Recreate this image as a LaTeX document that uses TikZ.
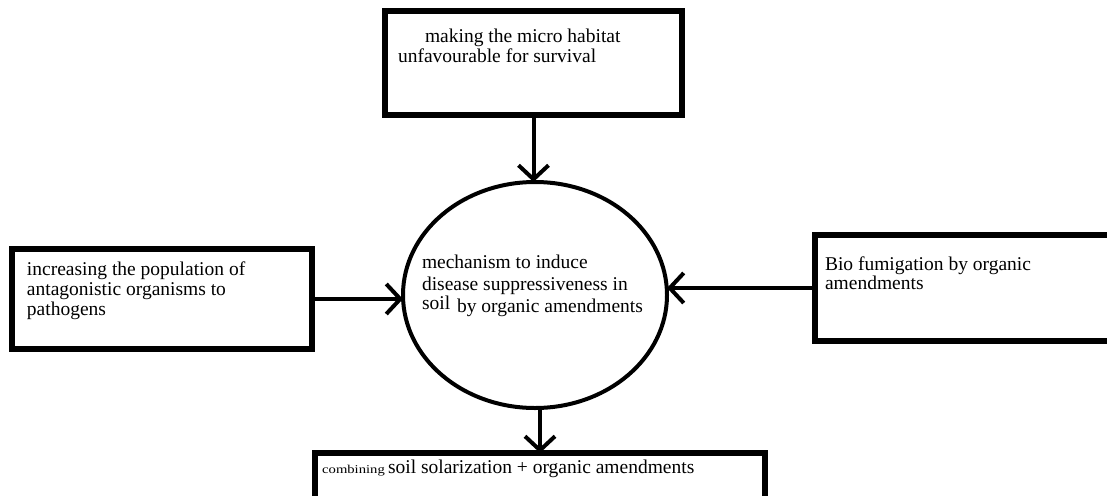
\documentclass[tikz,border=0pt]{standalone}
\usepackage{fontspec}
\setmainfont{Liberation Serif}
\usetikzlibrary{shapes.geometric,arrows.meta}
\tikzset{
  box/.style={draw, rectangle, line width=5.5pt, inner sep=0pt, outer sep=0pt},
  txt/.style={anchor=base west, inner sep=0pt, outer sep=0pt, font=\fontsize{19.5}{20.5}\selectfont},
  conn/.style={line width=4pt, -{Straight Barb[length=14pt,width=30pt]}}
}
\begin{document}
\begin{tikzpicture}[x=1pt,y=-1pt]
\clip (0,0) rectangle (1107,495);
\fill[white] (0,0) rectangle (1107,495);
% boxes
\node[box, minimum width=297pt, minimum height=104pt] (tb) at (533.5,63) {};
\node[box, minimum width=300pt, minimum height=100pt] (lb) at (162,299) {};
\node[box, minimum width=300pt, minimum height=106pt] (rb) at (965,288) {};
\node[box, minimum width=450pt, minimum height=57pt] (bb) at (540,481.5) {};
\node[draw, ellipse, line width=4pt, minimum width=264pt, minimum height=226pt, inner sep=0pt, outer sep=0pt] (e) at (535,295) {};
% texts
\node[txt] (t1) at (425,42) {making the micro habitat};
\node[txt] (t2) at (398,62.5) {unfavourable for survival};
\node[txt] (l1) at (27,275.5) {increasing the population of};
\node[txt] (l2) at (27,295.5) {antagonistic organisms to};
\node[txt] (l3) at (27,315) {pathogens};
\node[txt] (r1) at (825,270) {Bio fumigation by organic};
\node[txt] (r2) at (825,289) {amendments};
\node[txt] (e1) at (422,268.5) {mechanism to induce};
\node[txt] (e2) at (422,290) {disease suppressiveness in};
\node[txt] (e3) at (422,309.5) {soil};
\node[txt] (e4) at (457,312.5) {by organic amendments};
\node[anchor=base west, inner sep=0pt, font=\fontsize{12}{13}\selectfont] (b1) at (322,473.5) {\scalebox{1.22}[1]{combining}};
\node[txt] (b2) at (388,473.5) {soil solarization + organic amendments};
% connectors
\draw[conn] (tb.south) -- (tb.south |- e.north);
\draw[conn] (lb.east) -- (lb.east -| e.west);
\draw[conn] (rb.west) -- (rb.west -| e.east);
\draw[conn] (bb.north |- e.south) -- (bb.north);
\end{tikzpicture}
\end{document}
